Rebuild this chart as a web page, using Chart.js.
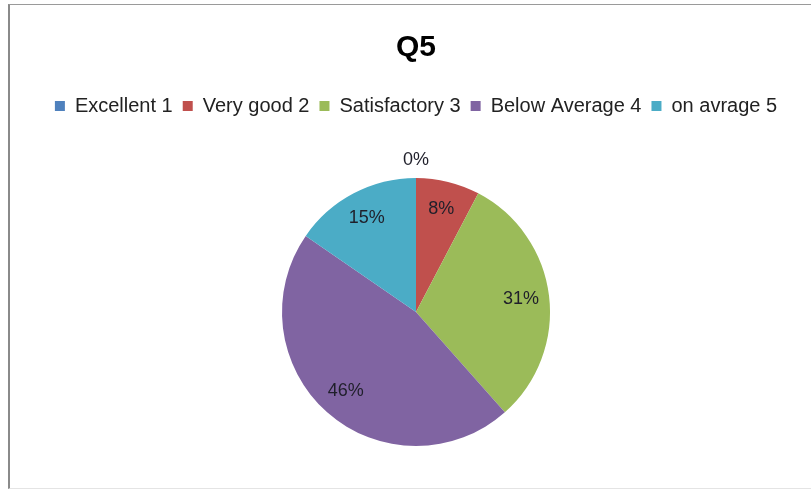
<!DOCTYPE html>
<html>
<head>
<meta charset="utf-8">
<script src="https://cdn.jsdelivr.net/npm/chart.js@4"></script>
<style>
  html, body { margin: 0; padding: 0; background: #fff; overflow: hidden; }
  #wrap { position: relative; width: 811px; height: 489px; overflow: hidden; }
  #frame {
    position: absolute; left: 8px; top: 4px; width: 820px; height: 483px;
    border-top: 1px solid #9a9a9a; border-left: 2px solid #8a8a8a;
    border-bottom: 1px solid #e4e4e4;
  }
  canvas { position: absolute; left: 0; top: 0; }
</style>
</head>
<body>
<div id="wrap">
  <div id="frame"></div>
  <canvas id="pieChart" width="811" height="498"></canvas>
</div>
<script>
const categories = ["Excellent 1", "Very good 2", "Satisfactory 3", "Below Average 4", "on avrage 5"];
const counts = [0, 1, 4, 6, 2];
const sliceColors = ["#4F81BD", "#C0504D", "#9BBB59", "#8064A2", "#4BACC6"];

const total = counts.reduce((a, b) => a + b, 0);

// percentage labels, inside the slice, or just outside for empty ones
const sliceLabels = {
    id: "sliceLabels",
    afterDatasetsDraw(chart) {
        const ctx = chart.ctx;
        const meta = chart.getDatasetMeta(0);
        ctx.save();
        ctx.font = "18px 'Liberation Sans', Arial, sans-serif";
        ctx.fillStyle = "#1f1f2a";
        ctx.textAlign = "center";
        ctx.textBaseline = "middle";
        meta.data.forEach((arc, i) => {
            const p = arc.getProps(["x", "y", "startAngle", "endAngle", "outerRadius"], true);
            const mid = (p.startAngle + p.endAngle) / 2;
            const r = counts[i] === 0 ? p.outerRadius + 18 : p.outerRadius * 0.79;
            const text = Math.round(counts[i] / total * 100) + "%";
            ctx.fillText(text, p.x + Math.cos(mid) * r, p.y + Math.sin(mid) * r);
        });
        ctx.restore();
    }
};

new Chart(document.getElementById("pieChart"), {
    type: "pie",
    data: {
        labels: categories,
        datasets: [{
            data: counts,
            backgroundColor: sliceColors,
            borderWidth: 0,
            radius: 134
        }]
    },
    options: {
        responsive: false,
        animation: false,
        layout: { padding: { left: 21, right: 0, top: 0, bottom: 0 } },
        plugins: {
            title: {
                display: true,
                text: "Q5",
                color: "#000",
                font: { family: "'Liberation Sans', Arial, sans-serif", size: 30, weight: "bold" },
                padding: { top: 30, bottom: 20 }
            },
            legend: {
                position: "top",
                labels: {
                    color: "#222",
                    font: { family: "'Liberation Sans', Arial, sans-serif", size: 20 },
                    boxWidth: 10,
                    boxHeight: 10,
                    padding: 10
                }
            },
            tooltip: { enabled: false }
        }
    },
    plugins: [sliceLabels]
});
</script>
</body>
</html>
